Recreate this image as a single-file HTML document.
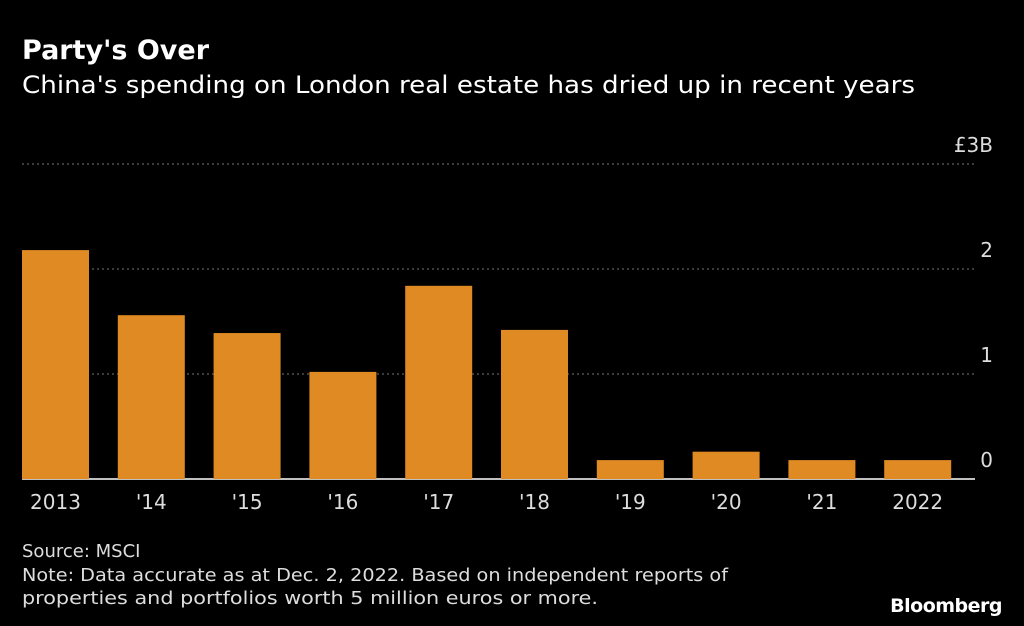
<!DOCTYPE html>
<html><head><meta charset="utf-8"><style>
body{margin:0;background:#000;width:1024px;height:626px;overflow:hidden}
svg{display:block;font-family:"DejaVu Sans","Liberation Sans",sans-serif}
</style></head><body>
<svg id="chart" width="1024" height="626" viewBox="0 0 1024 626">
<text x="22" y="59" fill="#fff" font-size="27" font-weight="bold">Party's Over</text>
<text x="22" y="93" fill="#fff" font-size="24" textLength="893" lengthAdjust="spacingAndGlyphs">China's spending on London real estate has dried up in recent years</text>
<g id="grid"></g><g id="bars"></g><g id="xlabels"></g>
<text x="22" y="557" fill="#ddd" font-size="18">Source: MSCI</text>
<text x="22" y="581" fill="#ddd" font-size="18" textLength="706" lengthAdjust="spacingAndGlyphs">Note: Data accurate as at Dec. 2, 2022. Based on independent reports of</text>
<text x="22" y="604" fill="#ddd" font-size="18" textLength="576" lengthAdjust="spacingAndGlyphs">properties and portfolios worth 5 million euros or more.</text>
<text x="1002" y="612" fill="#fff" font-size="19" font-weight="bold" text-anchor="end" letter-spacing="-0.5">Bloomberg</text>
</svg>
<script>
const categories=["2013","'14","'15","'16","'17","'18","'19","'20","'21","2022"];
const values=[2.18,1.56,1.39,1.02,1.84,1.42,0.18,0.26,0.18,0.18];
const yTicks=[0,1,2,3];
const yTickLabels=["0","1","2","£3B"];
const NS="http://www.w3.org/2000/svg";
const x0=22,band=95.8,bw=67,yBase=479,unit=105;
const y=v=>yBase-v*unit, x=i=>x0+i*band;
function mk(t,a,p){const e=document.createElementNS(NS,t);for(const k in a)e.setAttribute(k,a[k]);p.appendChild(e);return e;}
const g=document.getElementById('grid'),b=document.getElementById('bars'),xl=document.getElementById('xlabels');
yTicks.forEach((t,i)=>{
 const l=mk('line',{x1:22,x2:975,y1:y(t),y2:y(t),stroke:t===0?'#fff':'#777','stroke-width':t===0?1.5:1,'stroke-dasharray':t===0?'none':'2,3'},g);
 
 
 const tx=mk('text',{x:993,y:y(t)-12,fill:'#ddd','font-size':20,'text-anchor':'end'},g);
 tx.textContent=yTickLabels[i];
 
 
});
categories.forEach((c,i)=>{
 const r=mk('rect',{x:x(i),y:y(values[i]),width:bw,height:values[i]*unit,fill:'#e08a24'},b);
 
 
 const t=mk('text',{x:x(i)+bw/2,y:509,fill:'#ddd','font-size':20,'text-anchor':'middle'},xl);
 t.textContent=c;
 
 
});
</script>
</body></html>
